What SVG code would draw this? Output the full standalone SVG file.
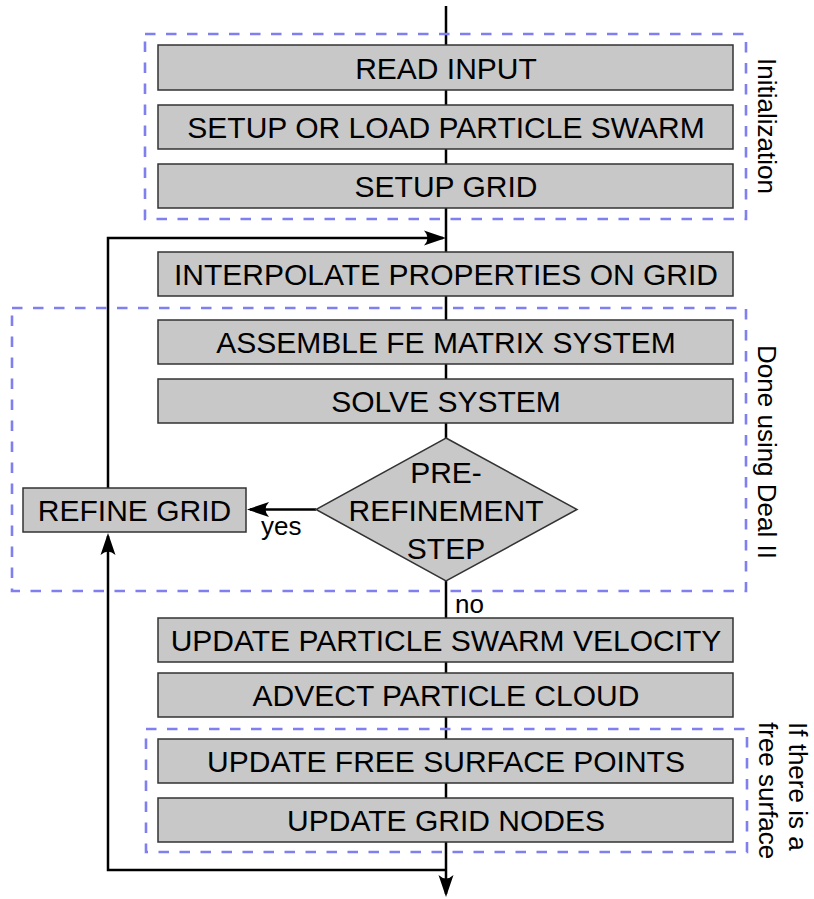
<svg xmlns="http://www.w3.org/2000/svg" width="814" height="899" viewBox="0 0 814 899">
<defs>
<style>
.box{fill:#c8c8c8;stroke:#333;stroke-width:1.5}
.t{font-family:"Liberation Sans",Arial,sans-serif;font-size:30px;fill:#000;text-anchor:middle}
.s{font-family:"Liberation Sans",Arial,sans-serif;font-size:26px;fill:#000}
.grp{fill:none;stroke:#7f7ff0;stroke-width:2.6;stroke-dasharray:10.5,10.5}
.ln{fill:none;stroke:#000;stroke-width:2.5}
</style>
<marker id="arr" viewBox="-24 -9 26 18" markerWidth="26" markerHeight="18" refX="-3" refY="0" orient="auto" markerUnits="userSpaceOnUse">
<path d="M0,0 L-22,-7.5 Q-15,0 -22,7.5 Z" fill="#000"/>
</marker>
</defs>
<rect width="814" height="899" fill="#fff"/>
<g id="connectors">
<path class="ln" d="M446,6 V894" stroke-width="2.2" marker-end="url(#arr)"/>
<path class="ln" d="M108,488 V238 H443" marker-end="url(#arr)"/>
<path class="ln" d="M316,509.5 H250" marker-end="url(#arr)"/>
<path class="ln" d="M446,870 H108 V536" marker-end="url(#arr)"/>
</g>
<g id="groups">
<rect id="grp-init" class="grp" x="145" y="34" width="601" height="185"/>
<rect id="grp-deal" class="grp" x="12" y="308" width="734" height="283"/>
<rect id="grp-free" class="grp" x="146" y="729" width="601" height="123"/>
</g>
<g id="n-read"><rect class="box" x="158" y="45" width="575" height="45"/><text class="t" x="446" y="78.5">READ INPUT</text></g>
<g id="n-swarm"><rect class="box" x="158" y="105" width="575" height="44"/><text class="t" x="446" y="137.5">SETUP OR LOAD PARTICLE SWARM</text></g>
<g id="n-grid"><rect class="box" x="158" y="164" width="575" height="44"/><text class="t" x="446" y="196.5">SETUP GRID</text></g>
<g id="n-interp"><rect class="box" x="158" y="252" width="575" height="44"/><text class="t" x="446" y="284.5">INTERPOLATE PROPERTIES ON GRID</text></g>
<g id="n-assemble"><rect class="box" x="158" y="320" width="575" height="44"/><text class="t" x="446" y="352.5">ASSEMBLE FE MATRIX SYSTEM</text></g>
<g id="n-solve"><rect class="box" x="158" y="379" width="575" height="44"/><text class="t" x="446" y="411.5">SOLVE SYSTEM</text></g>
<g id="n-pre"><path class="box" d="M446,438 L577,509.5 L446,581 L316,509.5 Z"/>
<text class="t" x="446" y="483">PRE-</text><text class="t" x="446" y="521">REFINEMENT</text><text class="t" x="446" y="559">STEP</text></g>
<g id="n-refine"><rect class="box" x="23" y="488" width="223" height="44"/><text class="t" x="134.5" y="520.5">REFINE GRID</text></g>
<g id="n-vel"><rect class="box" x="158" y="618" width="575" height="44"/><text class="t" x="446" y="650.5">UPDATE PARTICLE SWARM VELOCITY</text></g>
<g id="n-advect"><rect class="box" x="158" y="673" width="575" height="44"/><text class="t" x="446" y="705.5">ADVECT PARTICLE CLOUD</text></g>
<g id="n-free"><rect class="box" x="158" y="739" width="575" height="44"/><text class="t" x="446" y="771.5">UPDATE FREE SURFACE POINTS</text></g>
<g id="n-nodes"><rect class="box" x="158" y="798" width="575" height="44"/><text class="t" x="446" y="830.5">UPDATE GRID NODES</text></g>
<g id="labels">
<text class="s" x="261" y="535">yes</text>
<text class="s" x="455" y="613">no</text>
<text class="s" text-anchor="middle" transform="translate(758,126) rotate(90)">Initialization</text>
<text class="s" text-anchor="middle" transform="translate(758,452) rotate(90)">Done using Deal II</text>
<text class="s" transform="translate(789,722) rotate(90)">If there is a</text>
<text class="s" transform="translate(759,722) rotate(90)">free surface</text>
</g>
</svg>
